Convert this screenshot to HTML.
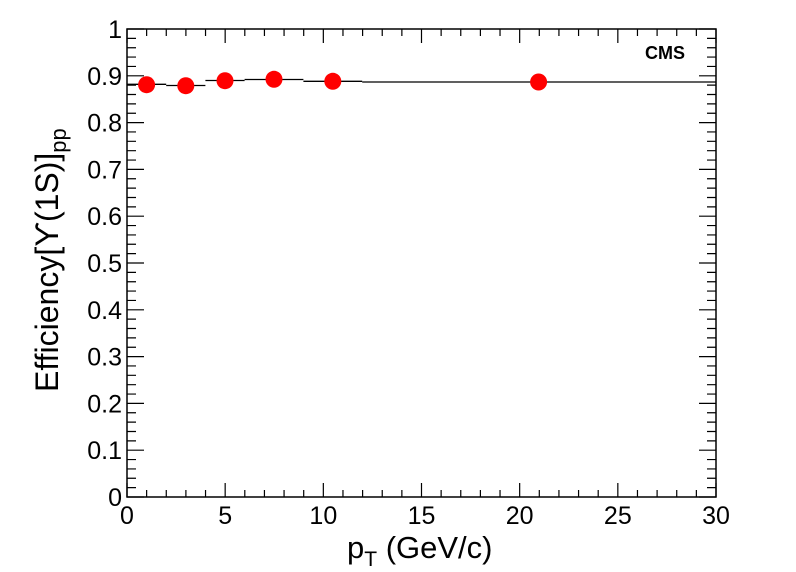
<!DOCTYPE html>
<html><head><meta charset="utf-8"><style>
html,body{margin:0;padding:0;background:#fff;}
svg{display:block;font-family:"Liberation Sans",sans-serif;}
</style></head><body>
<svg id="s" width="796" height="572" xmlns="http://www.w3.org/2000/svg">
<rect x="0" y="0" width="796" height="572" fill="#fff"/>
<rect x="127" y="29" width="589" height="468" fill="none" stroke="#000" stroke-width="1.5"/>
<g id="ticks" stroke="#000" stroke-width="1.2"></g>
<g id="labels" font-size="25" fill="#000"></g>
<path d="M127 84.3H166.2M166.2 85.5H205.4M205.4 80.5H244.6M244.6 79.5H303.4M303.4 81.3H362.2M362.2 82H716" stroke="#000" stroke-width="1.3" fill="none"/>
<g fill="#f00">
<circle cx="146.6" cy="84.7" r="8.5"/>
<circle cx="185.8" cy="85.7" r="8.5"/>
<circle cx="225" cy="80.7" r="8.5"/>
<circle cx="274" cy="79.3" r="8.5"/>
<circle cx="332.8" cy="81.3" r="8.5"/>
<circle cx="538.6" cy="82" r="8.5"/>
</g>
<text x="645" y="59" font-size="18" font-weight="bold">CMS</text>
<text x="347" y="558" font-size="31">p<tspan font-size="21" dy="8">T</tspan><tspan dy="-8"> (GeV/c)</tspan></text>
<text transform="translate(58,392) rotate(-90)" font-size="32">Efficiency[ϒ(1S)]<tspan font-size="22" dy="8">pp</tspan></text>
</svg>
<script>
var t=document.getElementById('ticks'),l=document.getElementById('labels'),d='';
var X0=127,X1=716,Y0=497,Y1=29;
for(var i=0;i<=30;i++){var x=X0+i*(X1-X0)/30,L=(i%5==0)?14:7;
d+='M'+x+' '+Y0+'V'+(Y0-L)+'M'+x+' '+Y1+'V'+(Y1+L);
if(i%5==0){l.innerHTML+='<text x="'+x+'" y="524" text-anchor="middle">'+i+'</text>';}}
for(var j=0;j<=50;j++){var y=Y0-j*(Y0-Y1)/50,L=(j%5==0)?17:9;
d+='M'+X0+' '+y+'H'+(X0+L)+'M'+X1+' '+y+'H'+(X1-L);
if(j%5==0){var v=j/50;var s=(v==0)?'0':(v==1)?'1':v.toFixed(1);
l.innerHTML+='<text x="122" y="'+(y+9)+'" text-anchor="end">'+s+'</text>';}}
var p=document.createElementNS('http://www.w3.org/2000/svg','path');p.setAttribute('d',d);t.appendChild(p);
</script>
</body></html>
